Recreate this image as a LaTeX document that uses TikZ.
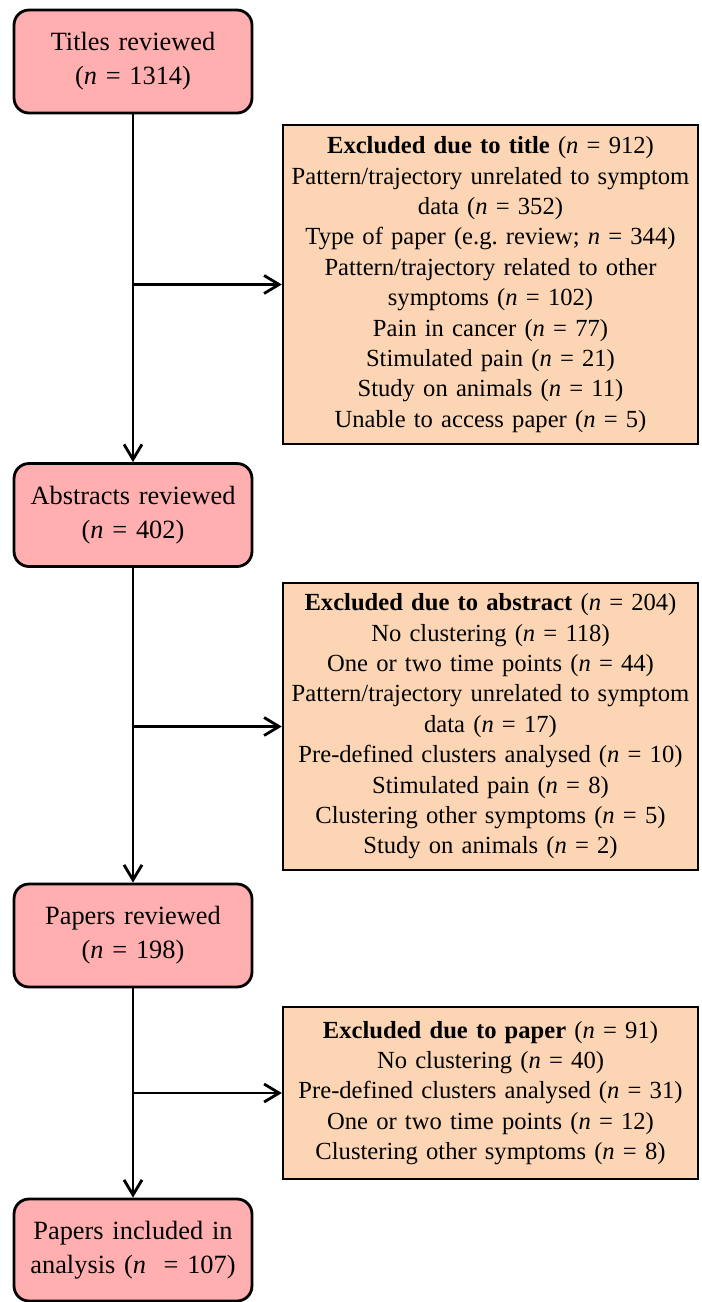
\documentclass[tikz,border=0pt]{standalone}
\usepackage{fontspec}
\setmainfont[WordSpace=0.85]{Liberation Serif}
\usetikzlibrary{arrows.meta}
\definecolor{boxpink}{RGB}{255,175,175}
\definecolor{boxtan}{RGB}{252,213,180}
\tikzset{
  stage/.style={rectangle, draw=black, fill=boxpink, rounded corners=0.3cm,
    line width=1.6pt, minimum width=4.76cm, minimum height=2.06cm,
    text width=4.5cm, align=center, font=\fontsize{15}{19.5}\selectfont},
  excl/.style={rectangle, draw=black, fill=boxtan, line width=1.4pt,
    text width=8cm, inner xsep=0.15cm, align=center,
    font=\fontsize{14}{17.3}\selectfont},
  arrow/.style={-{Straight Barb[length=0.3cm, width=0.36cm]}, line width=1.6pt},
  line/.style={line width=1.6pt}
}
\newcommand{\nn}[1]{(\textit{n} = #1)}

\begin{document}
\begin{tikzpicture}[x=0.02cm, y=-0.02cm]
    \useasboundingbox (0,0) rectangle (701,1302);
    % stages
    \node[stage] (titles) at (133,61.5) {Titles reviewed\\ \nn{1314}};
    \node[stage] (abstracts) at (133,515) {Abstracts reviewed\\ \nn{402}};
    \node[stage] (papers) at (133,935.5) {Papers reviewed\\ \nn{198}};
    \node[stage, minimum height=2.04cm] (included) at (133,1250) {Papers included in\\ analysis (\textit{n}\ \ = 107)};
    % exclusions
    \node[excl, minimum height=6.38cm] (excl1) at (490.5,284.5) {\textbf{Excluded due to title} \nn{912}\\
      Pattern/trajectory unrelated to symptom\\ data \nn{352}\\
      Type of paper (e.g.\ review; \textit{n} = 344)\\
      Pattern/trajectory related to other\\ symptoms \nn{102}\\
      Pain in cancer \nn{77}\\ Stimulated pain \nn{21}\\
      Study on animals \nn{11}\\ Unable to access paper \nn{5}};
    \node[excl, minimum height=5.74cm] (excl2) at (490.5,726.5) {\textbf{Excluded due to abstract} \nn{204}\\
      No clustering \nn{118}\\ One or two time points \nn{44}\\
      Pattern/trajectory unrelated to symptom\\ data \nn{17}\\
      Pre-defined clusters analysed \nn{10}\\ Stimulated pain \nn{8}\\
      Clustering other symptoms \nn{5}\\ Study on animals \nn{2}};
    \node[excl, minimum height=3.44cm] (excl3) at (490.5,1093) {\textbf{Excluded due to paper} \nn{91}\\
      No clustering \nn{40}\\ Pre-defined clusters analysed \nn{31}\\
      One or two time points \nn{12}\\ Clustering other symptoms \nn{8}};
    % connectors
    \coordinate (j1) at (titles.south |- excl1.west);
    \coordinate (j2) at (abstracts.south |- excl2.west);
    \coordinate (j3) at (papers.south |- excl3.west);
    \draw[arrow] (titles.south) -- (abstracts.north);
    \draw[arrow] (abstracts.south) -- (papers.north);
    \draw[arrow] (papers.south) -- (included.north);
    \draw[arrow] (j1) -- (excl1.west);
    \draw[arrow] (j2) -- (excl2.west);
    \draw[arrow] (j3) -- (excl3.west);
\end{tikzpicture}
\end{document}
